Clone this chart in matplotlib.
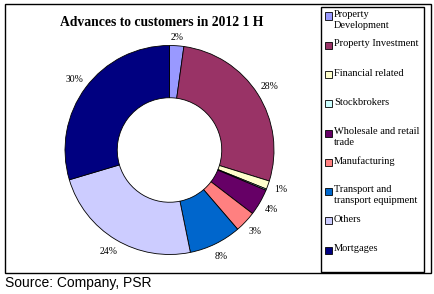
import numpy as np
import matplotlib.pyplot as plt
from matplotlib.patches import Rectangle

# data (share of advances, %)
sectors = ["Property\nDevelopment", "Property Investment", "Financial related",
           "Stockbrokers", "Wholesale and retail\ntrade", "Manufacturing",
           "Transport and\ntransport equipment", "Others", "Mortgages"]
shares = [2.2, 27.6, 1.3, 0.2, 4.1, 3.3, 8.1, 23.6, 29.6]
colors = ["#9999FF", "#993366", "#FFFFCC", "#CCFFFF", "#660066",
          "#FF8080", "#0066CC", "#CCCCFF", "#000080"]

W, H = 434, 294
fig = plt.figure(figsize=(W / 100, H / 100), dpi=100)
serif = "Liberation Serif"


def fx(px):
    return px / W


def fy(py):
    return 1 - py / H


# outer frame and legend frame
fig.patches.append(Rectangle((fx(4.5), fy(273)), fx(426), 269 / H, transform=fig.transFigure,
                             fill=False, ec="black", lw=1))
fig.patches.append(Rectangle((fx(321), fy(272)), fx(103), 265 / H, transform=fig.transFigure,
                             fill=False, ec="black", lw=1))

# donut
cx, cy, r = 169.5, 150, 104.5
ax = fig.add_axes([fx(cx - r), fy(cy + r), 2 * r / W, 2 * r / H])


def pct(p):
    return "" if p < 0.5 else "%.0f%%" % p


wedges, texts, autotexts = ax.pie(shares, colors=colors, startangle=90, counterclock=False,
                                  autopct=pct, pctdistance=1.13, radius=1,
                                  wedgeprops=dict(width=0.5, edgecolor="black", linewidth=0.6),
                                  textprops=dict(family=serif, fontsize=7))
for w in wedges:
    w.set_clip_on(False)

# the small top label sits a little closer to the ring, under the title
w0 = wedges[0]
mid = np.deg2rad((w0.theta1 + w0.theta2) / 2)
autotexts[0].set_position((1.08 * np.cos(mid), 1.08 * np.sin(mid)))

ax.set_xlim(-1, 1)
ax.set_ylim(-1, 1)
ax.set_aspect("equal")
ax.axis("off")

fig.text(fx(162), fy(23), "Advances to customers in 2012 1 H", ha="center", va="center",
         family=serif, fontweight="bold", fontsize=9.8)

# legend drawn by hand to keep the uneven row layout
row0, pitch = 16, 29.25
for i, (name, c) in enumerate(zip(sectors, colors)):
    y = row0 + i * pitch
    fig.patches.append(Rectangle((fx(325), fy(y + 3.5)), fx(7), 7 / H, transform=fig.transFigure,
                                 fc=c, ec="black", lw=0.6))
    fig.text(fx(334), fy(y - 6), name, ha="left", va="top", family=serif, fontsize=7.5,
             linespacing=1.25)

fig.text(fx(5), fy(283), "Source: Company, PSR", ha="left", va="center",
         family="Liberation Sans", fontsize=10)

fig.savefig("out.png", dpi=100)
